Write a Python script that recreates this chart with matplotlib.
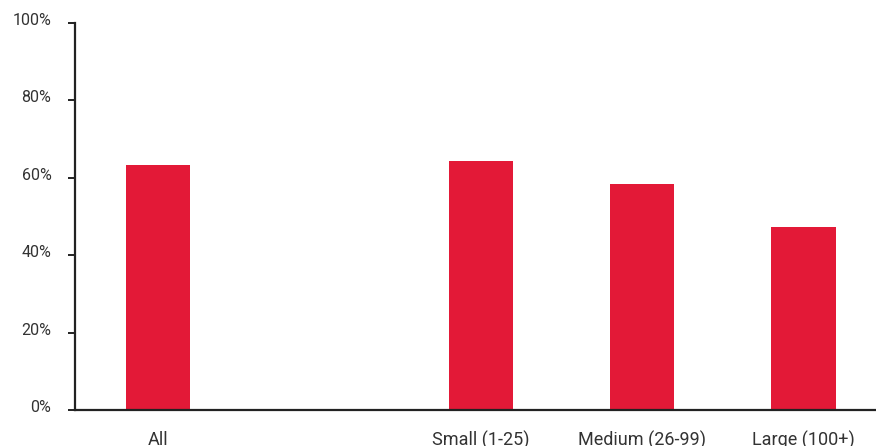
import matplotlib
matplotlib.use("Agg")
import matplotlib.pyplot as plt
from matplotlib.transforms import ScaledTranslation

categories = ["All", "", "Small (1-25)", "Medium (26-99)", "Large (100+)"]
values = [63.3, None, 64.3, 58.4, 47.3]
yticks = [0, 20, 40, 60, 80, 100]
ytick_labels = ["0%", "20%", "40%", "60%", "80%", "100%"]

plt.rcParams['font.family'] = ['Roboto', 'DejaVu Sans']

fig = plt.figure(figsize=(8.76, 4.46), dpi=100)
ax = fig.add_axes([75/876, 36/446, 1 - 75/876, (410-23)/446])

xs = [i for i, v in enumerate(values) if v is not None]
vs = [v for v in values if v is not None]
ax.bar(xs, vs, width=0.40, color="#E31937", zorder=2)

ax.set_xlim(-0.516, 4.45)
ax.set_ylim(0, 100)
ax.set_yticks(yticks)
ax.set_yticklabels(ytick_labels, fontsize=11.5, color="#333333")
ax.set_xticks(range(len(categories)))
ax.set_xticklabels(categories, fontsize=13, color="#333333")

for s in ["top", "right"]:
    ax.spines[s].set_visible(False)
for s in ["left", "bottom"]:
    ax.spines[s].set_color("#222222")
    ax.spines[s].set_linewidth(1.6)

ax.tick_params(axis="y", length=5, width=1.4, color="#222222", pad=12)
ax.tick_params(axis="x", length=0, pad=15)

off = ScaledTranslation(0, 4/100, fig.dpi_scale_trans)
for lab in ax.get_yticklabels():
    lab.set_transform(lab.get_transform() + off)

fig.savefig("out.png", dpi=100)
